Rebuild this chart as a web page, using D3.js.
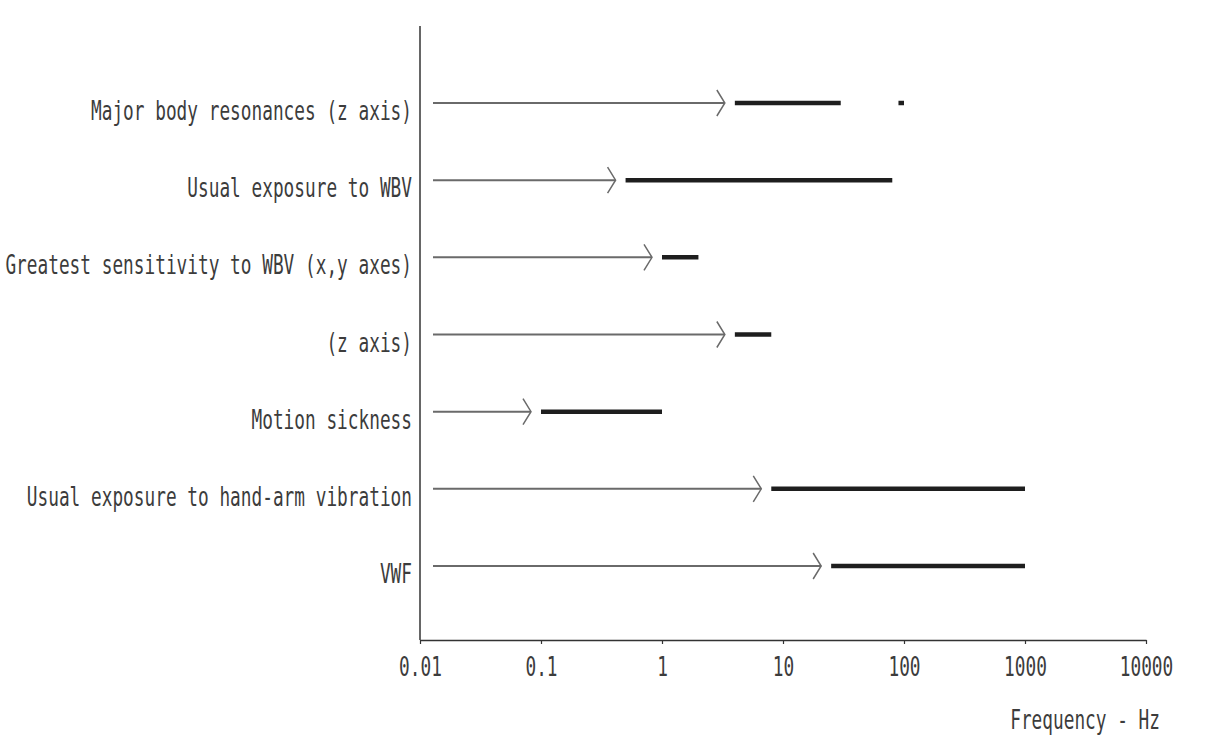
<!DOCTYPE html>
<html>
<head>
<meta charset="utf-8">
<script src="https://cdn.jsdelivr.net/npm/d3@7"></script>
<style>
  html, body { margin: 0; padding: 0; background: #fff; }
  svg text { font-family: "DejaVu Sans Mono", "Liberation Mono", monospace; fill: #3c3c3c; }
</style>
</head>
<body>
<svg id="chart" width="1227" height="747"></svg>
<script>
// Frequency ranges (Hz) for each vibration effect
const categories = [
  "Major body resonances (z axis)",
  "Usual exposure to WBV",
  "Greatest sensitivity to WBV (x,y axes)",
  "(z axis)",
  "Motion sickness",
  "Usual exposure to hand-arm vibration",
  "VWF"
];
const rangeLow  = [4, 0.5, 1, 4, 0.1, 8, 25];
const rangeHigh = [30, 80, 2, 8, 1, 1000, 1000];
// Secondary resonance band drawn on the first row
const extraBands = [{ row: 0, low: 90, high: 100 }];

const tickValues = [0.01, 0.1, 1, 10, 100, 1000, 10000];
const tickLabels = ["0.01", "0.1", "1", "10", "100", "1000", "10000"];
const axisTitle = "Frequency - Hz";

const svg = d3.select("#chart");
const charW = 10.7;      // advance per character of the narrow label face
const fontSize = "27px"; // tall glyphs, squeezed horizontally via textLength

function squeeze(sel) {
  sel.style("font-size", fontSize)
    .each(function () {
      const t = d3.select(this);
      t.attr("textLength", t.text().length * charW).attr("lengthAdjust", "spacingAndGlyphs");
    });
}

const x = d3.scaleLog().domain([0.01, 10000]).range([420, 1146]);
const y = d3.scalePoint().domain(categories).range([103, 566]);

const rows = categories.map((c, i) => ({ name: c, low: rangeLow[i], high: rangeHigh[i] }));

// Axes
svg.append("line")
  .attr("x1", 420).attr("x2", 420).attr("y1", 26).attr("y2", 640)
  .attr("stroke", "#333").attr("stroke-width", 1.5);

const xAxis = d3.axisBottom(x)
  .tickValues(tickValues)
  .tickFormat((d, i) => tickLabels[i])
  .tickSize(4)
  .tickSizeOuter(0);

const gx = svg.append("g").attr("transform", "translate(0,640)").call(xAxis);
gx.select(".domain").attr("stroke", "#333").attr("stroke-width", 1.5);
gx.selectAll(".tick line").attr("stroke", "#333").attr("stroke-width", 1.2);
gx.selectAll(".tick text")
  .attr("y", 36)
  .attr("dy", 0)
  .attr("fill", "#3c3c3c")
  .style("font-family", "'DejaVu Sans Mono', monospace")
  .call(squeeze);

svg.append("text")
  .attr("x", 1160).attr("y", 729)
  .attr("text-anchor", "end")
  .text(axisTitle)
  .call(squeeze);

// Category labels
svg.selectAll("text.cat").data(rows).join("text")
  .attr("class", "cat")
  .attr("x", 412)
  .attr("y", d => y(d.name) + 17)
  .attr("text-anchor", "end")
  .text(d => d.name)
  .call(squeeze);

// Thin arrows leading up to each range
const arrowStart = 433;
const gap = 10;
const arrows = svg.append("g").attr("stroke", "#6a6a6a").attr("stroke-width", 2).attr("fill", "none");
rows.forEach(d => {
  const cy = y(d.name);
  const tip = x(d.low) - gap;
  arrows.append("line").attr("x1", arrowStart).attr("x2", tip).attr("y1", cy).attr("y2", cy);
  arrows.append("path")
    .attr("d", `M${tip - 8},${cy - 13} L${tip},${cy} L${tip - 8},${cy + 13}`)
    .attr("stroke-width", 1.5);
});

// Thick bars for the frequency ranges
const bars = rows.map(d => ({ row: d.name, low: d.low, high: d.high }))
  .concat(extraBands.map(b => ({ row: categories[b.row], low: b.low, high: b.high })));

svg.selectAll("line.range").data(bars).join("line")
  .attr("class", "range")
  .attr("x1", d => x(d.low)).attr("x2", d => x(d.high))
  .attr("y1", d => y(d.row)).attr("y2", d => y(d.row))
  .attr("stroke", "#1e1e1e")
  .attr("stroke-width", 4.5);
</script>
</body>
</html>
